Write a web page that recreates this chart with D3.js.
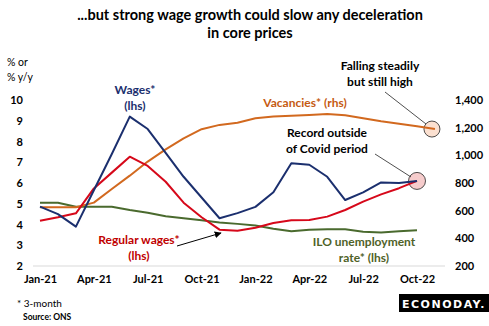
<!DOCTYPE html>
<html>
<head>
<meta charset="utf-8">
<script src="https://cdn.jsdelivr.net/npm/d3@7"></script>
<style>
  body { margin: 0; background: #fff; }
  svg text { font-family: Lato, "Open Sans", sans-serif; }
</style>
</head>
<body>
<div id="chart"></div>
<script>
// monthly series, Jan-21 onwards
var wages = [4.86, 4.5, 3.9, 5.65, 7.4, 9.2, 8.6, 7.45, 6.3, 5.3, 4.3, 4.55,
             4.85, 5.55, 6.95, 6.88, 6.3, 5.18, 5.55, 6.03, 6.0, 6.1];
var regularWages = [4.18, 4.35, 4.54, 5.74, 6.5, 7.27, 6.82, 6.06, 5.05, 4.35, 3.75, 3.7,
                    3.84, 4.07, 4.2, 4.22, 4.38, 4.7, 5.1, 5.45, 5.75, 6.1];
var unemployment = [5.05, 5.05, 4.86, 4.86, 4.86, 4.7, 4.57, 4.4, 4.3, 4.2, 4.1, 4.03,
                    3.95, 3.8, 3.67, 3.75, 3.77, 3.77, 3.65, 3.62, 3.67, 3.72];
// thousands, one month longer than the wage data
var vacancies = [625, 625, 625, 658, 757, 853, 955, 1043, 1123, 1189, 1220, 1235,
                 1268, 1280, 1286, 1292, 1298, 1290, 1268, 1247, 1229, 1211, 1190];

var monthTicks = [0, 3, 6, 9, 12, 15, 18, 21];
var monthLabels = ['Jan-21', 'Apr-21', 'Jul-21', 'Oct-21', 'Jan-22', 'Apr-22', 'Jul-22', 'Oct-22'];
var lhsTicks = [2, 3, 4, 5, 6, 7, 8, 9, 10];
var rhsTicks = [200, 400, 600, 800, 1000, 1200, 1400];

var width = 489,
    height = 326,
    colors = {
      wages: '#1b2f6e',
      regular: '#d6081a',
      vacancies: '#d2691f',
      unemp: '#4a6a2e'
    }
;

var x = d3.scaleLinear().domain([0, 21]).range([40, 417]);
var yL = d3.scaleLinear().domain([2, 10]).range([266, 100]);
var yR = d3.scaleLinear().domain([200, 1400]).range([266, 100]);

var svg = d3.select('#chart')
  .append('svg')
    .attr('width', width)
    .attr('height', height);

// title
svg.append('text')
  .attr('x', 250).attr('y', 20)
  .attr('text-anchor', 'middle')
  .style('font-weight', 'bold').style('font-size', '14.5px')
  .text('...but strong wage growth could slow any deceleration');
svg.append('text')
  .attr('x', 250).attr('y', 38)
  .attr('text-anchor', 'middle')
  .style('font-weight', 'bold').style('font-size', '14.5px')
  .text('in core prices');

svg.append('text').attr('x', 7).attr('y', 66)
  .style('font-size', '10.5px').text('% or');
svg.append('text').attr('x', 7).attr('y', 81)
  .style('font-size', '10.5px').text('% y/y');

// baseline
svg.append('line')
  .attr('x1', 33).attr('x2', 445)
  .attr('y1', yL(2)).attr('y2', yL(2))
  .style('stroke', '#d9d9d9');

// axes (labels only)
var leftAxis = svg.append('g')
  .attr('transform', 'translate(25,0)')
  .call(d3.axisLeft(yL).tickValues(lhsTicks).tickSize(0).tickPadding(2));
var rightAxis = svg.append('g')
  .attr('transform', 'translate(453,0)')
  .call(d3.axisRight(yR).tickValues(rhsTicks).tickSize(0).tickPadding(2)
    .tickFormat(d3.format(',')));
var bottomAxis = svg.append('g')
  .attr('transform', 'translate(0,' + yL(2) + ')')
  .call(d3.axisBottom(x).tickValues(monthTicks).tickSize(0).tickPadding(9)
    .tickFormat(function (d, i) { return monthLabels[i]; }));

[leftAxis, rightAxis, bottomAxis].forEach(function (a) {
  a.select('.domain').remove();
  a.selectAll('text')
    .style('font-family', 'Lato, sans-serif')
    .style('font-size', '11px')
    .style('font-weight', 'bold')
    .style('fill', '#000');
});

// highlight circles sit under the lines
svg.append('circle')
  .attr('cx', x(22) - 3).attr('cy', yR(vacancies[22]))
  .attr('r', 8)
  .style('fill', '#fbe0d0').style('stroke', '#222').style('stroke-width', 0.8);
svg.append('circle')
  .attr('cx', x(21)).attr('cy', yL(wages[21]))
  .attr('r', 8.5)
  .style('fill', '#f6cccc').style('stroke', '#222').style('stroke-width', 0.8);

var lineL = d3.line()
  .x(function (d, i) { return x(i); })
  .y(function (d) { return yL(d); });
var lineR = d3.line()
  .x(function (d, i) { return x(i); })
  .y(function (d) { return yR(d); });

var series = [
  { data: unemployment, gen: lineL, color: colors.unemp },
  { data: vacancies, gen: lineR, color: colors.vacancies },
  { data: regularWages, gen: lineL, color: colors.regular },
  { data: wages, gen: lineL, color: colors.wages }
];

svg.selectAll('path.series')
  .data(series)
  .enter().append('path')
    .classed('series', true)
    .attr('d', function (s) { return s.gen(s.data); })
    .style('fill', 'none')
    .style('stroke', function (s) { return s.color; })
    .style('stroke-width', 2)
    .style('stroke-linejoin', 'round');

// series labels
function label(lines, cx, cy, color) {
  var t = svg.append('text')
    .attr('text-anchor', 'middle')
    .style('font-weight', 'bold')
    .style('font-size', '12px')
    .style('fill', color);
  lines.forEach(function (l, i) {
    t.append('tspan').attr('x', cx).attr('y', cy + i * 16).text(l);
  });
}
label(['Wages*', '(lhs)'], 135, 94, colors.wages);
label(['Vacancies* (rhs)'], 305, 107, '#c55a11');
label(['Regular wages*', '(lhs)'], 139, 244, '#c00000');
label(['ILO unemployment', 'rate* (lhs)'], 364, 246, '#4f6228');
label(['Falling steadily', 'but still high'], 380, 70, '#000');
label(['Record outside', 'of Covid period'], 327, 137, '#000');

// callout leaders
svg.append('line')
  .attr('x1', 385).attr('y1', 92).attr('x2', 426).attr('y2', 124)
  .style('stroke', '#222').style('stroke-width', 0.8);
svg.append('line')
  .attr('x1', 375).attr('y1', 154).attr('x2', 411).attr('y2', 177)
  .style('stroke', '#222').style('stroke-width', 0.8);

// arrow to the regular wages trough
var defs = svg.append('defs');
defs.append('marker')
    .attr('id', 'arrow')
    .attr('viewBox', '0 0 10 10')
    .attr('refX', 9).attr('refY', 5)
    .attr('markerWidth', 7).attr('markerHeight', 7)
    .attr('orient', 'auto')
  .append('path')
    .attr('d', 'M0,0 L10,5 L0,10 z')
    .style('fill', '#000');
svg.append('line')
  .attr('x1', 177).attr('y1', 246).attr('x2', 221).attr('y2', 233)
  .style('stroke', '#000').style('stroke-width', 1)
  .attr('marker-end', 'url(#arrow)');

// footnotes
svg.append('text').attr('x', 17).attr('y', 307)
  .style('font-size', '10px').text('* 3-month');
svg.append('text').attr('x', 23).attr('y', 320)
  .style('font-size', '8.5px').style('font-weight', 'bold').text('Source: ONS');

// logo
svg.append('rect')
  .attr('x', 399).attr('y', 294).attr('width', 90).attr('height', 18)
  .style('fill', '#000');
svg.append('text')
  .attr('x', 444).attr('y', 308)
  .attr('text-anchor', 'middle')
  .style('fill', '#fff')
  .style('font-family', '"DejaVu Sans", sans-serif')
  .style('font-weight', 'bold')
  .style('font-size', '11px')
  .style('letter-spacing', '1.5px')
  .text('ECONODAY.');
</script>
</body>
</html>
